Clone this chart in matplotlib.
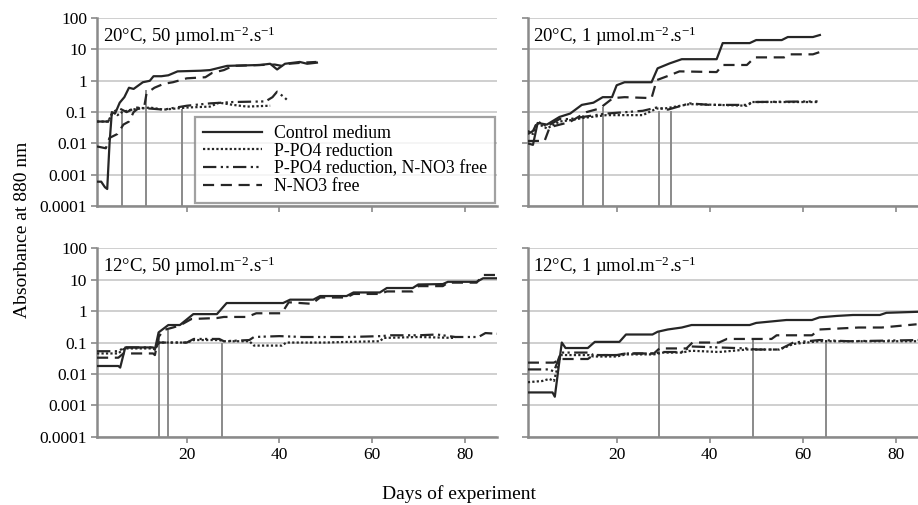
import matplotlib
matplotlib.use("Agg")
from matplotlib import pyplot as plt
from matplotlib.ticker import NullLocator

plt.rcParams['font.family'] = ['Liberation Serif', 'DejaVu Serif']
plt.rcParams['mathtext.fontset'] = 'custom'
plt.rcParams['mathtext.rm'] = 'Liberation Serif'
plt.rcParams['mathtext.it'] = 'Liberation Serif:italic'

# series names
SERIES = ["Control medium", "P-PO4 reduction",
          "P-PO4 reduction, N-NO3 free", "N-NO3 free"]

# ---- 20°C, 50 µmol (top left) ----
tl_ctrl_d = [0.6, 1.5, 2.3, 2.8, 3.3, 3.8, 4.5, 5.5, 6.5, 7.5, 8.5, 10.5, 12, 12.8, 14.5, 16, 18, 23, 25, 28.7, 35.8, 38, 39.5, 41.2, 44.4, 46, 48.1]
tl_ctrl_v = [0.0006, 0.0006, 0.0004, 0.00035, 0.01, 0.1, 0.09, 0.2, 0.3, 0.6, 0.55, 0.9, 1.0, 1.4, 1.4, 1.5, 2.0, 2.1, 2.2, 3.0, 3.2, 3.5, 2.3, 3.5, 4.0, 3.5, 3.8]
tl_p_d = [0.6, 3.0, 4.0, 5.0, 6.0, 8.0, 10, 12, 15, 20, 25, 27, 30, 33, 38]
tl_p_v = [0.05, 0.05, 0.1, 0.08, 0.1, 0.12, 0.13, 0.14, 0.12, 0.14, 0.15, 0.2, 0.17, 0.15, 0.16]
tl_pn_d = [0.6, 3.0, 4.0, 5.5, 7.0, 9.0, 12, 15, 20, 25, 30, 37, 38.5, 39.5, 41, 42]
tl_pn_v = [0.05, 0.05, 0.1, 0.13, 0.1, 0.14, 0.13, 0.12, 0.16, 0.19, 0.21, 0.22, 0.3, 0.45, 0.3, 0.22]
tl_n_d = [0.6, 2.5, 3.3, 5, 6.3, 7.5, 8.5, 10, 10.8, 11.3, 13, 15, 17, 20, 24, 25.5, 28, 30, 36, 39, 40.5, 42, 45, 48]
tl_n_v = [0.008, 0.007, 0.015, 0.02, 0.04, 0.05, 0.1, 0.15, 0.15, 0.4, 0.6, 0.8, 0.9, 1.2, 1.3, 1.8, 2.2, 3.0, 3.2, 3.3, 3.0, 3.5, 3.8, 4.0]
tl_mark_d = [6, 11.2, 19]
tl_mark_v = [0.1, 0.5, 0.13]

# ---- 20°C, 1 µmol (top right) ----
tr_ctrl_d = [0.9, 2.0, 3.0, 5.0, 7.7, 10, 12.5, 15, 17, 19, 20, 21.7, 27.5, 28.8, 31.4, 34, 41.5, 42.8, 48.6, 50, 55.5, 56.8, 62.2, 63.7]
tr_ctrl_v = [0.01, 0.009, 0.045, 0.04, 0.07, 0.09, 0.17, 0.2, 0.3, 0.3, 0.72, 0.9, 0.9, 2.5, 3.6, 4.9, 4.9, 16, 16, 20, 20, 25, 25, 29]
tr_p_d = [0.9, 2.0, 2.8, 5.0, 7.7, 10, 12.7, 17.8, 25.6, 28.6, 30.3, 35.7, 48, 49.2, 63.2]
tr_p_v = [0.025, 0.02, 0.045, 0.03, 0.05, 0.055, 0.065, 0.08, 0.08, 0.13, 0.13, 0.18, 0.16, 0.21, 0.21]
tr_pn_d = [0.9, 2.0, 3.0, 5.0, 7.7, 10, 12.7, 17.8, 22, 25.6, 28.6, 31, 35.7, 40, 48, 49.2, 63.2]
tr_pn_v = [0.02, 0.025, 0.05, 0.035, 0.06, 0.06, 0.07, 0.09, 0.1, 0.11, 0.14, 0.12, 0.19, 0.17, 0.17, 0.21, 0.22]
tr_n_d = [0.9, 4.5, 5.6, 9.9, 13.5, 16.3, 19.2, 21.7, 27.5, 28.6, 31.4, 33.5, 41.5, 42.8, 48, 49.7, 56, 57.2, 62.2, 63.7]
tr_n_v = [0.012, 0.012, 0.033, 0.048, 0.1, 0.13, 0.28, 0.3, 0.28, 1.05, 1.5, 2.0, 1.9, 3.2, 3.2, 5.6, 5.6, 7.0, 7.0, 8.3]
tr_mark_d = [12.7, 17, 29, 31.6]
tr_mark_v = [0.08, 0.15, 0.11, 0.11]

# ---- 12°C, 50 µmol (bottom left) ----
bl_ctrl_d = [0.6, 5.2, 5.6, 6.7, 12.7, 13.1, 13.9, 16, 18.5, 21.4, 26.5, 28.6, 40.8, 42.3, 47.3, 48.8, 54.5, 56, 61.7, 63.2, 68.8, 70, 75.3, 76.4, 82.6, 84, 87]
bl_ctrl_v = [0.018, 0.018, 0.016, 0.07, 0.07, 0.06, 0.21, 0.36, 0.36, 0.8, 0.8, 1.8, 1.8, 2.3, 2.3, 3.0, 3.0, 3.9, 3.9, 5.4, 5.4, 7.0, 7.2, 8.5, 8.5, 11, 11]
bl_p_d = [0.6, 5.2, 6.5, 12.7, 13.1, 14.0, 20, 21.5, 27, 28, 33.5, 34.5, 40.5, 41.5, 50, 55, 61.7, 62.5, 70, 78]
bl_p_v = [0.045, 0.045, 0.065, 0.065, 0.06, 0.1, 0.1, 0.12, 0.12, 0.11, 0.11, 0.08, 0.08, 0.1, 0.1, 0.105, 0.11, 0.14, 0.15, 0.14]
bl_pn_d = [0.6, 5.2, 6.5, 12.7, 13.1, 14.0, 20, 21.5, 27, 28, 33.5, 34.5, 40, 45, 50, 55, 62, 64, 70, 74, 78, 83, 84.5, 87]
bl_pn_v = [0.053, 0.053, 0.07, 0.07, 0.065, 0.1, 0.1, 0.13, 0.13, 0.11, 0.12, 0.15, 0.16, 0.15, 0.15, 0.15, 0.16, 0.17, 0.17, 0.18, 0.15, 0.15, 0.2, 0.19]
bl_n_d = [0.6, 5.2, 6.3, 12.7, 13.1, 13.9, 15, 17, 18.5, 21, 26.5, 28, 33, 35, 40.5, 42, 47, 48.8, 54.5, 56, 61.7, 63.2, 68.8, 70, 75.3, 76.4, 82.6, 84, 87]
bl_n_v = [0.033, 0.033, 0.045, 0.045, 0.04, 0.15, 0.25, 0.3, 0.35, 0.56, 0.6, 0.65, 0.65, 0.85, 0.85, 1.9, 1.7, 2.7, 2.7, 3.5, 3.5, 4.2, 4.2, 6.2, 6.2, 8.0, 8.0, 14, 14]
bl_mark_d = [14, 16, 27.6]
bl_mark_v = [0.2, 0.25, 0.1]

# ---- 12°C, 1 µmol (bottom right) ----
br_ctrl_d = [0.9, 6.2, 6.7, 8.2, 9.0, 13.8, 15.3, 20.6, 22, 27.7, 28.8, 31, 34, 36.1, 43, 48.6, 50, 56.5, 62, 63.6, 67.3, 70.8, 76.6, 78, 85]
br_ctrl_v = [0.0026, 0.0026, 0.0019, 0.1, 0.067, 0.067, 0.105, 0.105, 0.18, 0.18, 0.22, 0.26, 0.3, 0.36, 0.36, 0.36, 0.42, 0.52, 0.52, 0.63, 0.7, 0.75, 0.75, 0.88, 0.95]
br_p_d = [0.9, 4.0, 5.5, 6.5, 8.0, 14, 15, 20, 22, 28, 30, 34, 36, 42, 48, 55, 58, 63.6, 85]
br_p_v = [0.0055, 0.006, 0.007, 0.006, 0.04, 0.04, 0.036, 0.036, 0.042, 0.042, 0.048, 0.048, 0.055, 0.05, 0.06, 0.06, 0.09, 0.11, 0.11]
br_pn_d = [0.9, 5.5, 6.5, 8.0, 14, 15, 20, 22, 28, 30, 34, 36, 48, 50, 55, 58, 63.6, 70, 85]
br_pn_v = [0.014, 0.014, 0.012, 0.048, 0.048, 0.04, 0.04, 0.045, 0.045, 0.05, 0.05, 0.075, 0.065, 0.06, 0.06, 0.1, 0.12, 0.11, 0.12]
br_n_d = [0.9, 6.5, 8.0, 13.8, 15, 20, 22, 28, 29.2, 35, 36.3, 42, 43.7, 53.3, 54.4, 62, 63.6, 72, 77, 84.5]
br_n_v = [0.023, 0.023, 0.03, 0.03, 0.04, 0.04, 0.045, 0.045, 0.065, 0.065, 0.1, 0.1, 0.13, 0.13, 0.17, 0.17, 0.26, 0.3, 0.3, 0.38]
br_mark_d = [29, 49.3, 65]
br_mark_v = [0.22, 0.14, 0.12]

Y_TICKS = [0.0001, 0.001, 0.01, 0.1, 1, 10, 100]
Y_LABELS = ["0.0001", "0.001", "0.01", "0.1", "1", "10", "100"]
X_TICKS = [20, 40, 60, 80]

LINE_STYLES = ['-', (0, (1, 1)), (0, (6, 2, 1, 1.5, 1, 2)), (0, (5, 3))]
INK = '#262626'
GRAY = '#8a8a8a'

fig = plt.figure(figsize=(9.18, 5.05), dpi=100)

panels = [
    ([0.1057, 0.592, 0.4357, 0.372], (0.6, 87),
     [(tl_ctrl_d, tl_ctrl_v), (tl_p_d, tl_p_v), (tl_pn_d, tl_pn_v), (tl_n_d, tl_n_v)],
     (tl_mark_d, tl_mark_v), "20°C, 50 µmol.m$^{-2}$.s$^{-1}$", True, False),
    ([0.575, 0.592, 0.425, 0.372], (0.9, 84.8),
     [(tr_ctrl_d, tr_ctrl_v), (tr_p_d, tr_p_v), (tr_pn_d, tr_pn_v), (tr_n_d, tr_n_v)],
     (tr_mark_d, tr_mark_v), "20°C, 1 µmol.m$^{-2}$.s$^{-1}$", False, False),
    ([0.1057, 0.1347, 0.4357, 0.374], (0.6, 87),
     [(bl_ctrl_d, bl_ctrl_v), (bl_p_d, bl_p_v), (bl_pn_d, bl_pn_v), (bl_n_d, bl_n_v)],
     (bl_mark_d, bl_mark_v), "12°C, 50 µmol.m$^{-2}$.s$^{-1}$", True, True),
    ([0.575, 0.1347, 0.425, 0.374], (0.9, 84.8),
     [(br_ctrl_d, br_ctrl_v), (br_p_d, br_p_v), (br_pn_d, br_pn_v), (br_n_d, br_n_v)],
     (br_mark_d, br_mark_v), "12°C, 1 µmol.m$^{-2}$.s$^{-1}$", False, True),
]

axes = []
for rect, xlim, series, marks, label, left_labels, bottom_labels in panels:
    ax = fig.add_axes(rect)
    ax.set_yscale('log')
    ax.set_ylim(0.0001, 100)
    ax.set_xlim(*xlim)
    ax.set_yticks(Y_TICKS)
    ax.set_yticklabels(Y_LABELS if left_labels else [])
    ax.yaxis.set_minor_locator(NullLocator())
    ax.set_xticks(X_TICKS)
    ax.set_xticklabels([str(t) for t in X_TICKS] if bottom_labels else [])
    ax.grid(True, axis='y', color='#cccccc', lw=1.3)
    ax.set_axisbelow(True)
    for s in ['top', 'right']:
        ax.spines[s].set_visible(False)
    for s in ['left', 'bottom']:
        ax.spines[s].set_color(GRAY)
        ax.spines[s].set_linewidth(1.8)
    ax.tick_params(direction='out', length=4, width=1.2, color=GRAY,
                   labelsize=12.5, pad=3)

    # vertical marker lines
    ax.vlines(marks[0], 0.0001, marks[1], colors=GRAY, lw=1.4, zorder=2)

    for (d, v), ls, name in zip(series, LINE_STYLES, SERIES):
        ax.plot(d, v, color=INK, lw=1.6, linestyle=ls, label=name, zorder=3)

    ax.text(0.014, 0.905, label, transform=ax.transAxes, fontsize=13.5,
            va='center', ha='left')
    axes.append(ax)

leg = axes[0].legend(loc='lower left', bbox_to_anchor=(0.245, 0.014),
                     fontsize=12.8, frameon=True, fancybox=False,
                     handlelength=3.3, handletextpad=0.7, labelspacing=0.05,
                     borderpad=0.45, borderaxespad=0)
leg.get_frame().set_edgecolor(GRAY)
leg.get_frame().set_linewidth(1.6)
leg.set_zorder(5)

fig.text(0.025, 0.545, "Absorbance at 880 nm", rotation=90,
         ha='center', va='center', fontsize=14)
fig.text(0.5, 0.022, "Days of experiment", ha='center', va='center', fontsize=14)

fig.savefig("out.png", dpi=100)
